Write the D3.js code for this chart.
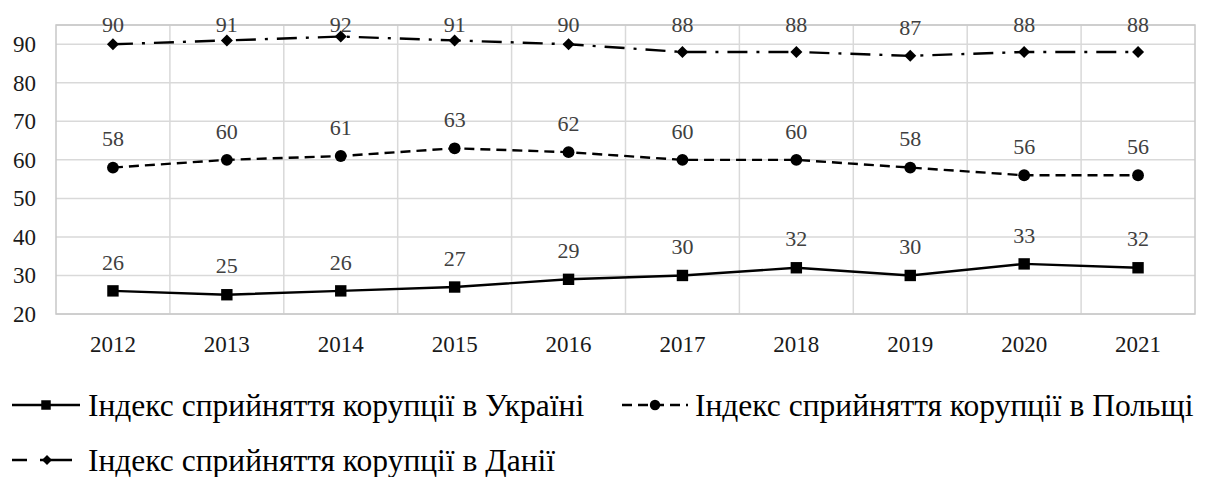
<!DOCTYPE html>
<html>
<head>
<meta charset="utf-8">
<script src="https://cdn.jsdelivr.net/npm/d3@7"></script>
<style>
  body { margin: 0; background: #fff; }
</style>
</head>
<body>
<div id="chart"></div>
<script>
const years = ['2012', '2013', '2014', '2015', '2016', '2017', '2018', '2019', '2020', '2021']
const ukraine = [26, 25, 26, 27, 29, 30, 32, 30, 33, 32]
const poland = [58, 60, 61, 63, 62, 60, 60, 58, 56, 56]
const denmark = [90, 91, 92, 91, 90, 88, 88, 87, 88, 88]
const yTicks = [20, 30, 40, 50, 60, 70, 80, 90]
const seriesNames = [
  'Індекс сприйняття корупції в Україні',
  'Індекс сприйняття корупції в Польщі',
  'Індекс сприйняття корупції в Данії'
]

const W = 1206, H = 477
const PLOT = { LEFT: 56, RIGHT: 1195, TOP: 25, BOTTOM: 314 }
const FONT = "'Liberation Serif', 'Times New Roman', serif"

const svg = d3.select('#chart').append('svg')
  .attr('width', W).attr('height', H)
  .style('font-family', FONT)

const x = d3.scaleBand().domain(years).range([PLOT.LEFT, PLOT.RIGHT])
const y = d3.scaleLinear().domain([20, 95]).range([PLOT.BOTTOM, PLOT.TOP])
const cx = d => x(d) + x.bandwidth() / 2

// grid
const grid = svg.append('g')
grid.selectAll('.hg').data(yTicks.concat([95])).enter().append('line')
  .attr('x1', PLOT.LEFT).attr('x2', PLOT.RIGHT)
  .attr('y1', d => y(d)).attr('y2', d => y(d))
  .attr('stroke', '#d9d9d9').attr('stroke-width', 1.5)
grid.selectAll('.vg').data(years.slice(1)).enter().append('line')
  .attr('x1', d => x(d)).attr('x2', d => x(d))
  .attr('y1', PLOT.TOP).attr('y2', PLOT.BOTTOM)
  .attr('stroke', '#d9d9d9').attr('stroke-width', 1.5)
svg.append('rect')
  .attr('x', PLOT.LEFT).attr('y', PLOT.TOP)
  .attr('width', PLOT.RIGHT - PLOT.LEFT).attr('height', PLOT.BOTTOM - PLOT.TOP)
  .attr('fill', 'none').attr('stroke', '#c8c8c8').attr('stroke-width', 1.5)

// axes
const yAxis = svg.append('g')
  .attr('transform', `translate(${PLOT.LEFT},0)`)
  .call(d3.axisLeft(y).tickValues(yTicks).tickSize(0).tickPadding(20))
const xAxis = svg.append('g')
  .attr('transform', `translate(0,${PLOT.BOTTOM})`)
  .call(d3.axisBottom(x).tickSize(0).tickPadding(22))
;[xAxis, yAxis].forEach(g => {
  g.attr('font-family', null)
  g.select('.domain').remove()
  g.selectAll('text')
    .style('font-family', FONT)
    .attr('font-size', 23).attr('fill', '#1a1a1a')
})

const series = [
  { name: seriesNames[0], values: ukraine, dash: null, marker: 'square' },
  { name: seriesNames[1], values: poland, dash: '10,6', marker: 'circle' },
  { name: seriesNames[2], values: denmark, dash: '20,9,3,9', marker: 'diamond' }
]

// diamond = square turned 45 degrees
const symbolFor = {
  square: { sym: d3.symbol().type(d3.symbolSquare).size(130), rot: 0 },
  circle: { sym: d3.symbol().type(d3.symbolCircle).size(110), rot: 0 },
  diamond: { sym: d3.symbol().type(d3.symbolSquare).size(72), rot: 45 }
}
const legendSymbol = {
  square: { sym: d3.symbol().type(d3.symbolSquare).size(90), rot: 0 },
  circle: { sym: d3.symbol().type(d3.symbolCircle).size(85), rot: 0 },
  diamond: { sym: d3.symbol().type(d3.symbolSquare).size(50), rot: 45 }
}

const line = d3.line().x(d => cx(d.year)).y(d => y(d.v))

series.forEach(s => {
  const pts = years.map((yr, i) => ({ year: yr, v: s.values[i] }))
  const m = symbolFor[s.marker]
  svg.append('path').datum(pts)
    .attr('d', line)
    .attr('fill', 'none').attr('stroke', '#000').attr('stroke-width', 2.4)
    .attr('stroke-dasharray', s.dash)
  svg.selectAll(null).data(pts).enter().append('path')
    .attr('d', m.sym)
    .attr('transform', d => `translate(${cx(d.year)},${y(d.v)}) rotate(${m.rot})`)
    .attr('fill', '#000')
  svg.selectAll(null).data(pts).enter().append('text')
    .attr('x', d => cx(d.year))
    .attr('y', d => Math.max(y(d.v) - 29, 24))
    .attr('dy', '0.35em')
    .attr('text-anchor', 'middle')
    .style('font-family', FONT)
    .attr('font-size', 22).attr('fill', '#404040')
    .text(d => d.v)
})

// legend
const legendPos = [
  { x: 12, y: 405, w: 68, tx: 88, dash: null, mx: 34 },
  { x: 622, y: 405, w: 66, tx: 695, dash: '10,6', mx: 33 },
  { x: 12, y: 460, w: 60, tx: 88, dash: '15,13,50', mx: 35 }
]
series.forEach((s, i) => {
  const p = legendPos[i]
  const m = legendSymbol[s.marker]
  const g = svg.append('g').attr('transform', `translate(${p.x},${p.y})`)
  g.append('line').attr('x1', 0).attr('x2', p.w)
    .attr('stroke', '#000').attr('stroke-width', 2.4)
    .attr('stroke-dasharray', p.dash)
  g.append('path').attr('d', m.sym)
    .attr('transform', `translate(${p.mx},0) rotate(${m.rot})`)
  g.append('text').attr('x', p.tx - p.x).attr('dy', '0.35em')
    .style('font-family', FONT)
    .attr('font-size', 31.5).attr('fill', '#000')
    .text(s.name)
})
</script>
</body>
</html>
